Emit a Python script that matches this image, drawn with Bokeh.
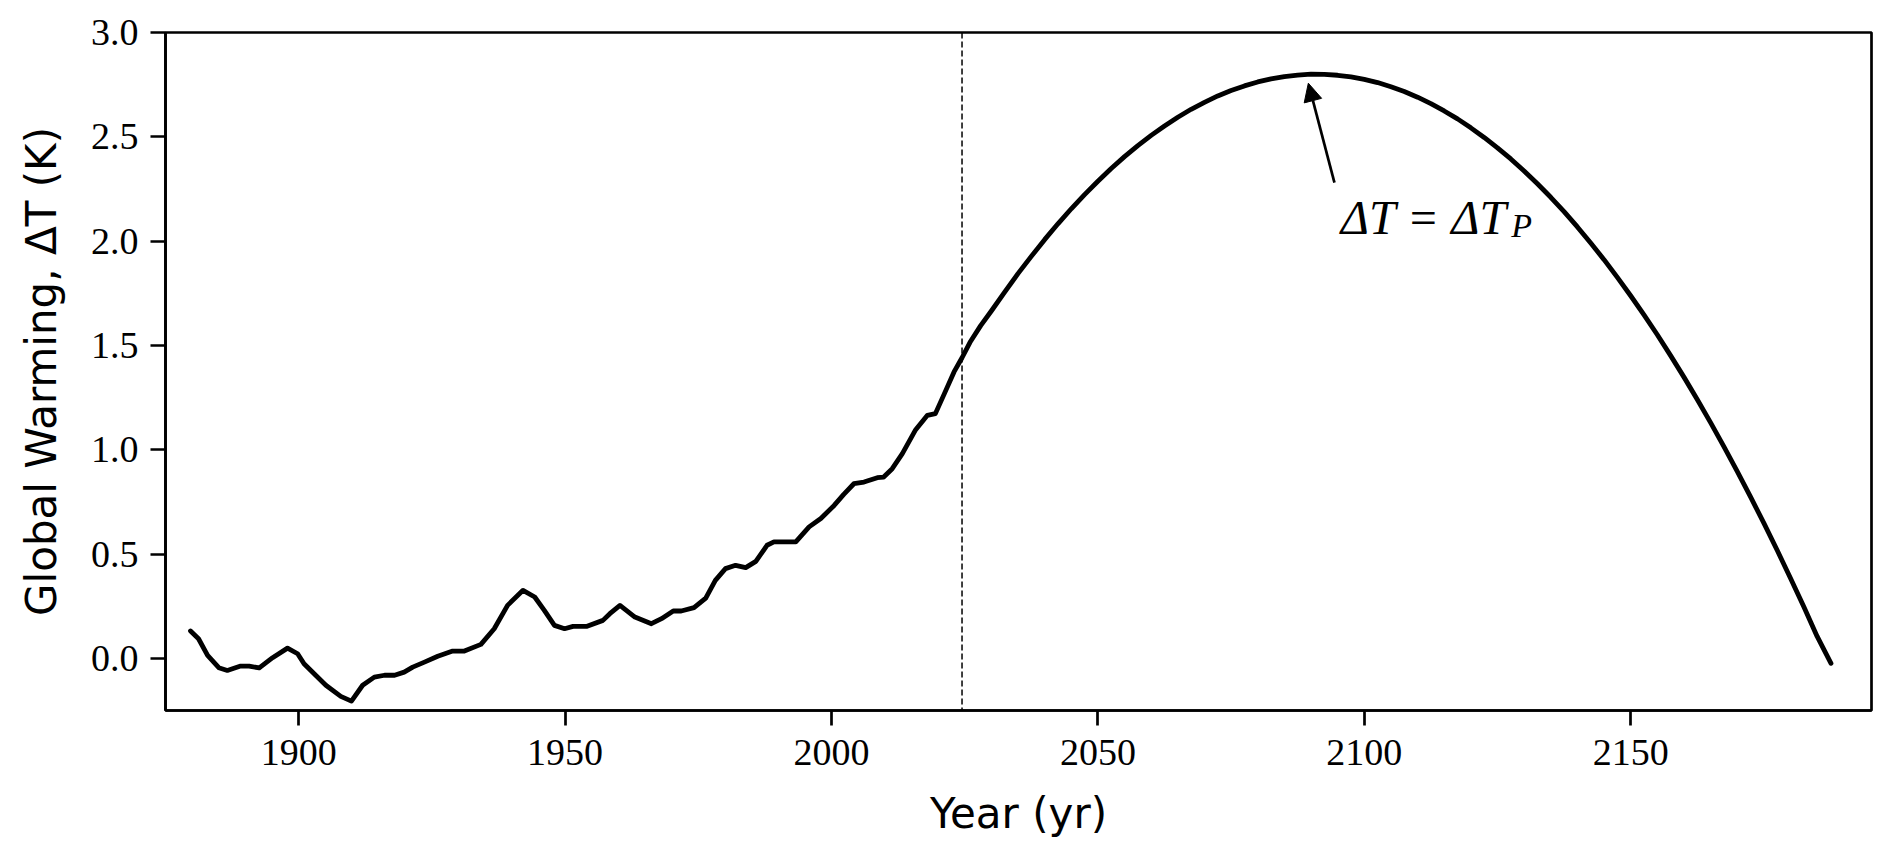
from bokeh.plotting import figure
from bokeh.models import Range1d, FixedTicker, Span, Arrow, NormalHead, Label, ColumnDataSource
from bokeh.embed import file_html
from bokeh.resources import INLINE

hist_years = [1879.7, 1881.2, 1882.9, 1885.0, 1886.6, 1889.1, 1890.7, 1892.6, 1895.1, 1897.9,
              1899.8, 1901.0, 1902.9, 1905.1, 1907.9, 1909.9, 1912.0, 1914.2, 1916.1, 1918.0,
              1919.8, 1921.4, 1923.6, 1926.1, 1928.9, 1931.1, 1934.2, 1936.7, 1939.2, 1942.1,
              1944.3, 1946.1, 1948.0, 1949.9, 1951.5, 1954.0, 1957.1, 1958.4, 1960.3, 1963.1,
              1966.2, 1968.1, 1970.3, 1971.8, 1974.2, 1976.4, 1978.2, 1980.1, 1982.0, 1983.9,
              1985.8, 1987.9, 1989.2, 1993.3, 1995.8, 1998.0, 2000.5, 2002.3, 2004.2, 2006.1,
              2008.6, 2009.8, 2011.4, 2013.3, 2015.8, 2018.0, 2019.5, 2021.4, 2023.0, 2024.5]
hist_vals = [0.131, 0.094, 0.014, -0.045, -0.058, -0.037, -0.037, -0.046, 0.003, 0.049,
             0.022, -0.026, -0.074, -0.129, -0.182, -0.205, -0.129, -0.090, -0.081, -0.081,
             -0.066, -0.042, -0.018, 0.010, 0.035, 0.035, 0.067, 0.142, 0.254, 0.326,
             0.294, 0.230, 0.158, 0.142, 0.153, 0.153, 0.182, 0.214, 0.254, 0.198,
             0.166, 0.190, 0.227, 0.227, 0.243, 0.289, 0.374, 0.430, 0.446, 0.435,
             0.465, 0.542, 0.558, 0.558, 0.630, 0.670, 0.733, 0.786, 0.837, 0.845,
             0.866, 0.869, 0.909, 0.981, 1.096, 1.165, 1.173, 1.281, 1.373, 1.441]

# Projected warming
proj_years = [2024.5, 2026, 2028, 2030, 2032.5, 2035, 2037.5, 2040, 2042.5, 2045, 2047.5,
              2050, 2052.5, 2055, 2057.5, 2060, 2062.5, 2065, 2067.5, 2070, 2072.5, 2075,
              2077.5, 2080, 2082.5, 2085, 2087.5, 2090, 2092.5, 2095, 2097.5, 2100, 2102.5,
              2105, 2107.5, 2110, 2112.5, 2115, 2117.5, 2120, 2122.5, 2125, 2127.5, 2130,
              2132.5, 2135, 2137.5, 2140, 2142.5, 2145, 2147.5, 2150, 2152.5, 2155, 2157.5,
              2160, 2162.5, 2165, 2167.5, 2170, 2172.5, 2175, 2177.5, 2180, 2182.5, 2185, 2187.6]
proj_vals = [1.441, 1.515, 1.595, 1.665, 1.756, 1.844, 1.927, 2.007, 2.083, 2.155, 2.223,
             2.287, 2.348, 2.405, 2.458, 2.507, 2.552, 2.594, 2.632, 2.665, 2.696, 2.722,
             2.744, 2.763, 2.778, 2.789, 2.796, 2.800, 2.799, 2.795, 2.787, 2.775, 2.760,
             2.740, 2.717, 2.690, 2.659, 2.624, 2.586, 2.543, 2.497, 2.447, 2.394, 2.336,
             2.275, 2.210, 2.141, 2.068, 1.991, 1.911, 1.826, 1.738, 1.646, 1.551, 1.451,
             1.348, 1.241, 1.130, 1.015, 0.896, 0.774, 0.648, 0.518, 0.384, 0.247, 0.105, -0.024]

present_year = 2024.5
x_ticks = [1900, 1950, 2000, 2050, 2100, 2150]
y_ticks = [0.0, 0.5, 1.0, 1.5, 2.0, 2.5, 3.0]
y_tick_labels = ["0.0", "0.5", "1.0", "1.5", "2.0", "2.5", "3.0"]

p = figure(width=1876, height=843, output_backend="svg", toolbar_location=None,
           x_range=Range1d(1875.0, 2195.2), y_range=Range1d(-0.25, 3.0),
           min_border_left=165, min_border_right=5, min_border_top=32, min_border_bottom=133,
           background_fill_color="white", border_fill_color="white")

p.xgrid.visible = False
p.ygrid.visible = False
p.outline_line_color = "black"
p.outline_line_width = 2.7
p.outline_line_alpha = 1.0

for ax in (p.xaxis[0], p.yaxis[0]):
    ax.axis_line_color = "black"
    ax.axis_line_width = 2.7
    ax.major_tick_line_color = "black"
    ax.major_tick_line_width = 2.7
    ax.major_tick_out = 15
    ax.major_tick_in = 0
    ax.minor_tick_line_color = None
    ax.major_label_text_font = "Liberation Serif"
    ax.major_label_text_font_size = "38px"
    ax.major_label_text_color = "black"
    ax.axis_label_text_font = "DejaVu Sans"
    ax.axis_label_text_font_size = "42px"
    ax.axis_label_text_font_style = "normal"
    ax.axis_label_text_color = "black"

p.xaxis.ticker = FixedTicker(ticks=x_ticks)
p.yaxis.ticker = FixedTicker(ticks=y_ticks)
p.yaxis.major_label_overrides = {t: l for t, l in zip(y_ticks, y_tick_labels)}
p.xaxis.major_label_standoff = 14
p.yaxis.major_label_standoff = 12
p.xaxis.axis_label = "Year (yr)"
p.yaxis.axis_label = "Global Warming, ΔT (K)"
p.xaxis.axis_label_standoff = 21
p.yaxis.axis_label_standoff = 22

src = ColumnDataSource(data=dict(x=hist_years + proj_years[1:], y=hist_vals + proj_vals[1:]))
p.line("x", "y", source=src, line_color="black", line_width=4.8, line_join="round", line_cap="round")

p.add_layout(Span(location=present_year, dimension="height", line_color="black",
                  line_width=1.5, line_dash="6 3"))

p.add_layout(Arrow(end=NormalHead(size=18, fill_color="black", line_color="black"),
                   x_start=2094.4, y_start=2.28, x_end=2089.5, y_end=2.757,
                   line_color="black", line_width=2.7))

p.add_layout(Label(x=2095.6, y=2.115, text="ΔT = ΔT", text_font="Liberation Serif",
                   text_font_size="48px", text_font_style="italic", text_color="black",
                   text_baseline="alphabetic", text_align="left"))
p.add_layout(Label(x=2127.6, y=2.075, text="P", text_font="Liberation Serif",
                   text_font_size="34px", text_font_style="italic", text_color="black",
                   text_baseline="alphabetic", text_align="left"))

open("out.html", "w").write(file_html(p, INLINE))
